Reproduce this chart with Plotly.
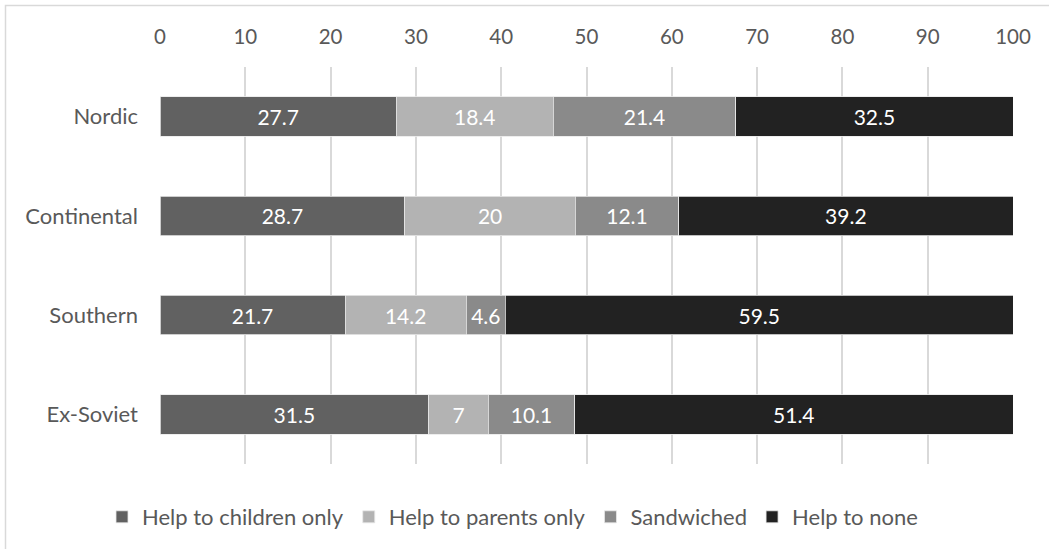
import plotly.graph_objects as go

regions = ["Nordic", "Continental", "Southern", "Ex-Soviet"]
series_names = ["Help to children only", "Help to parents only", "Sandwiched", "Help to none"]
children_only = [27.7, 28.7, 21.7, 31.5]
parents_only = [18.4, 20, 14.2, 7]
sandwiched = [21.4, 12.1, 4.6, 10.1]
help_none = [32.5, 39.2, 59.5, 51.4]
x_ticks = [0, 10, 20, 30, 40, 50, 60, 70, 80, 90, 100]

colors = ["#616161", "#b3b3b3", "#8a8a8a", "#222222"]
FONT = "Lato"

W, H = 1049, 549
L, R, T, B = 160, 36, 67, 85

fig = go.Figure()
for name, vals, col in zip(series_names, [children_only, parents_only, sandwiched, help_none], colors):
    fig.add_trace(go.Bar(
        y=regions, x=vals, name=name, orientation="h",
        marker=dict(color=col, line=dict(color="#e8e8e8", width=0.8)),
        text=[f"{v:g}" for v in vals], textposition="inside",
        insidetextanchor="middle", textangle=0, constraintext="none",
        textfont=dict(color="white", size=21, family=FONT),
    ))

pw = W - L - R
ph = H - T - B

fig.update_layout(
    width=W, height=H,
    barmode="stack", bargap=0.6,
    margin=dict(l=L, r=R, t=T, b=B, autoexpand=False),
    paper_bgcolor="white", plot_bgcolor="white",
    font=dict(family=FONT, size=22, color="#595959"),
    xaxis=dict(range=[0, 100], tickvals=x_ticks, side="top", showgrid=True,
               gridcolor="#d9d9d9", gridwidth=1.5, zeroline=False, showline=False,
               ticks="", ticklabelstandoff=18, tickfont=dict(size=20.5, color="#595959")),
    yaxis=dict(autorange="reversed", showgrid=False, showline=False, ticks="",
               ticklabelstandoff=21, tickfont=dict(size=22, color="#595959")),
    legend=dict(orientation="h", x=(102 - L) / pw, xanchor="left",
                y=(H - B - 517) / ph, yanchor="middle",
                font=dict(size=22, color="#595959"), traceorder="normal",
                itemwidth=30, bgcolor="rgba(0,0,0,0)"),
    showlegend=True,
    shapes=[dict(type="rect", xref="paper", yref="paper",
                 x0=(5.5 - L) / pw, x1=(1100 - L) / pw,
                 y0=(H - B - 600) / ph, y1=(H - B - 5.5) / ph,
                 line=dict(color="#d9d9d9", width=1.5), fillcolor="rgba(0,0,0,0)",
                 layer="below")],
)

fig.write_html("out.html")
